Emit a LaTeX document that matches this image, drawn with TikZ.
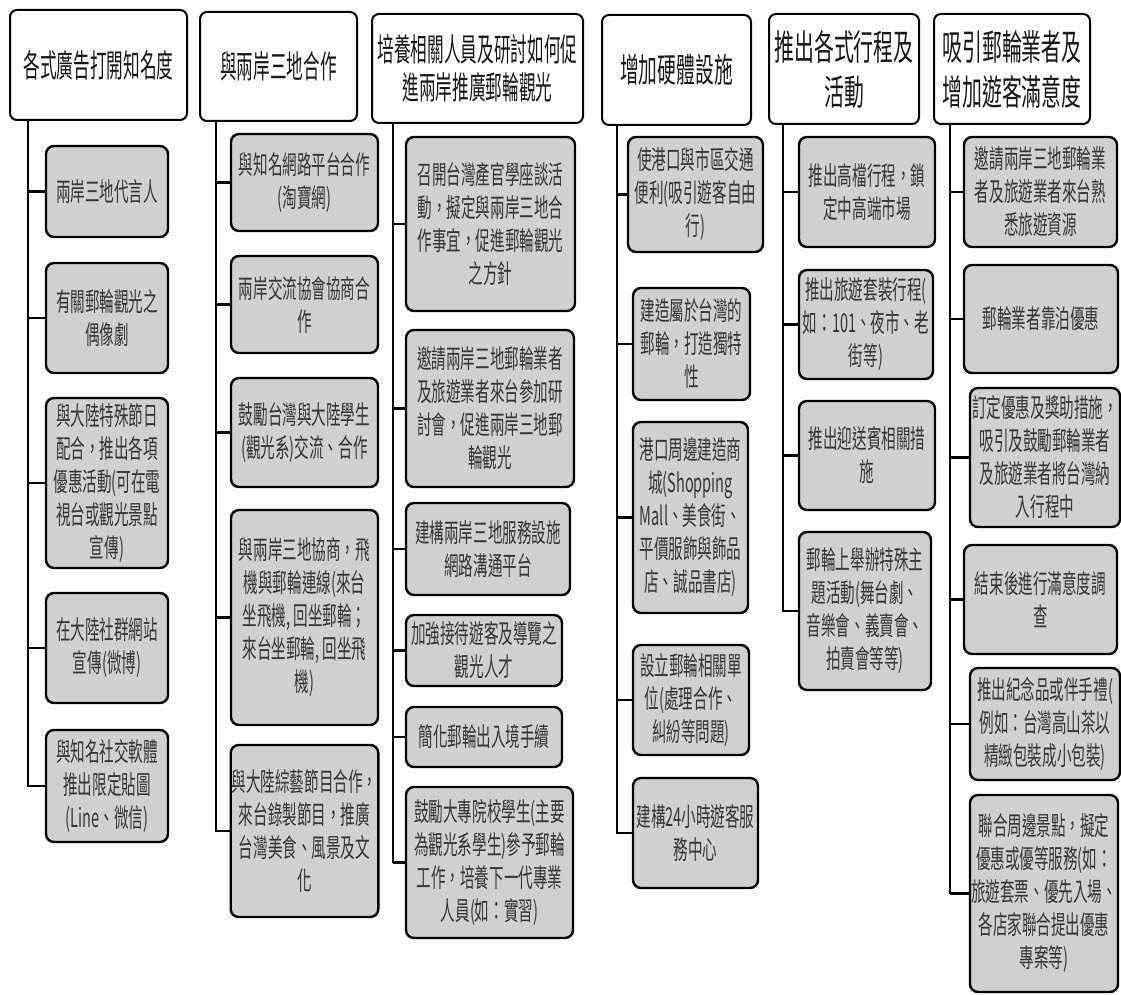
\documentclass[tikz,border=0pt]{standalone}
\usepackage{fontspec}
\newfontfamily\cjkc[FakeStretch=0.56]{Noto Sans CJK TC}
\newfontfamily\cjkh[FakeStretch=0.52]{Noto Sans CJK TC}
\newfontfamily\cjkw[FakeStretch=0.56]{Noto Sans CJK TC}
\definecolor{boxgray}{RGB}{208,208,208}
\definecolor{txtgray}{RGB}{55,55,55}
\newcommand\mybx[7]{\node[#1, minimum width={(#4)-(#2)}, minimum height={(#5)-(#3)}] (#6) at ({((#2)+(#4))/2},{((#3)+(#5))/2}) {#7};}
\begin{document}
\begin{tikzpicture}[x=1pt,y=-1pt,
 hbox/.style={draw=black, line width=2pt, fill=white, rounded corners=7pt, align=center, inner sep=1pt, text=black!90, font=\cjkh\fontsize{32}{38}\selectfont},
 hmid/.style={font=\cjkw\fontsize{33.5}{44}\selectfont},
 hbig/.style={font=\cjkw\fontsize{35.5}{45}\selectfont},
 cbox/.style={draw=black, line width=2.4pt, fill=boxgray, rounded corners=8pt, align=center, inner sep=1pt, text=txtgray, font=\cjkc\fontsize{26}{33}\selectfont},
 trunk/.style={line width=1.6pt},
 stub/.style={line width=2.8pt}]
\useasboundingbox (0,0) rectangle (1121,995);

% column 1
\mybx{hbox}{10}{10}{187}{120}{h1}{各式廣告打開知名度}
\mybx{cbox}{46}{146}{168}{237}{c11}{兩岸三地代言人}
\mybx{cbox}{46}{263}{168}{373}{c12}{有關郵輪觀光之\\偶像劇}
\mybx{cbox}{46}{398}{168}{568}{c13}{與大陸特殊節日\\配合，推出各項\\優惠活動(可在電\\視台或觀光景點\\宣傳)}
\mybx{cbox}{46}{593}{168}{703}{c14}{在大陸社群網站\\宣傳(微博)}
\mybx{cbox}{46}{730}{168}{842}{c15}{與知名社交軟體\\推出限定貼圖\\(Line、微信)}

% column 2
\mybx{hbox}{200}{12}{357}{121}{h2}{與兩岸三地合作}
\mybx{cbox}{231}{134}{378}{231}{c21}{與知名網路平台合作\\(淘寶網)}
\mybx{cbox}{231}{256}{378}{353}{c22}{兩岸交流協會協商合\\作}
\mybx{cbox}{231}{378}{378}{487}{c23}{鼓勵台灣與大陸學生\\(觀光系)交流、合作}
\mybx{cbox}{231}{510}{378}{725}{c24}{與兩岸三地協商，飛\\機與郵輪連線(來台\\坐飛機, 回坐郵輪；\\來台坐郵輪, 回坐飛\\機)}
\mybx{cbox}{231}{745}{378}{917}{c25}{與大陸綜藝節目合作，\\來台錄製節目，推廣\\台灣美食、風景及文\\化}

% column 3
\mybx{hbox}{372}{14}{583}{123}{h3}{培養相關人員及研討如何促\\進兩岸推廣郵輪觀光}
\mybx{cbox}{406}{137}{575}{311}{c31}{召開台灣產官學座談活\\動，擬定與兩岸三地合\\作事宜，促進郵輪觀光\\之方針}
\mybx{cbox}{406}{330}{574}{487}{c32}{邀請兩岸三地郵輪業者\\及旅遊業者來台參加研\\討會，促進兩岸三地郵\\輪觀光}
\mybx{cbox}{406}{503}{570}{595}{c33}{建構兩岸三地服務設施\\網路溝通平台}
\mybx{cbox}{406}{615}{562}{686}{c34}{加強接待遊客及導覽之\\觀光人才}
\mybx{cbox}{406}{707}{562}{767}{c35}{簡化郵輪出入境手續}
\mybx{cbox}{406}{787}{573}{938}{c36}{鼓勵大專院校學生(主要\\為觀光系學生)參予郵輪\\工作，培養下一代專業\\人員(如：實習)}

% column 4
\mybx{hbox,hmid}{602}{15}{751}{125}{h4}{增加硬體設施}
\mybx{cbox}{628}{137}{763}{252}{c41}{使港口與市區交通\\便利(吸引遊客自由\\行)}
\mybx{cbox}{633}{288}{750}{400}{c42}{建造屬於台灣的\\郵輪，打造獨特\\性}
\mybx{cbox}{633}{422}{748}{613}{c43}{港口周邊建造商\\城(Shopping\\Mall、美食街、\\平價服飾與飾品\\店、誠品書店)}
\mybx{cbox}{633}{645}{749}{755}{c44}{設立郵輪相關單\\位(處理合作、\\糾紛等問題)}
\mybx{cbox}{633}{778}{758}{888}{c45}{建構24小時遊客服\\務中心}

% column 5
\mybx{hbox,hbig}{769}{14}{919}{124}{h5}{推出各式行程及\\活動}
\mybx{cbox}{799}{137}{935}{247}{c51}{推出高檔行程，鎖\\定中高端市場}
\mybx{cbox}{799}{270}{933}{379}{c52}{推出旅遊套裝行程(\\如：101、夜市、老\\街等)}
\mybx{cbox}{799}{401}{935}{510}{c53}{推出迎送賓相關措\\施}
\mybx{cbox}{799}{532}{931}{690}{c54}{郵輪上舉辦特殊主\\題活動(舞台劇、\\音樂會、義賣會、\\拍賣會等等)}

% column 6
\mybx{hbox,hbig}{934}{14}{1090}{124}{h6}{吸引郵輪業者及\\增加遊客滿意度}
\mybx{cbox}{964}{137}{1117}{247}{c61}{邀請兩岸三地郵輪業\\者及旅遊業者來台熟\\悉旅遊資源}
\mybx{cbox}{964}{265}{1118}{373}{c62}{郵輪業者靠泊優惠}
\mybx{cbox}{970}{388}{1120}{527}{c63}{訂定優惠及獎助措施，\\吸引及鼓勵郵輪業者\\及旅遊業者將台灣納\\入行程中}
\mybx{cbox}{964}{545}{1117}{654}{c64}{結束後進行滿意度調\\查}
\mybx{cbox}{970}{668}{1120}{780}{c65}{推出紀念品或伴手禮(\\例如：台灣高山茶以\\精緻包裝成小包裝)}
\mybx{cbox}{970}{795}{1118}{992}{c66}{聯合周邊景點，擬定\\優惠或優等服務(如：\\旅遊套票、優先入場、\\各店家聯合提出優惠\\專案等)}

% trunks
\coordinate (t1) at (28,120);
\coordinate (t2) at (216,121);
\coordinate (t3) at (393,123);
\coordinate (t4) at (617,125);
\coordinate (t5) at (783,124);
\coordinate (t6) at (950,124);

\draw[trunk] (t1) |- (c15.west);
\foreach \c in {c11,c12,c13,c14,c15} \draw[stub] (\c.west) -- (\c.west -| t1);
\draw[trunk] (t2) |- (c25.west);
\foreach \c in {c21,c22,c23,c24,c25} \draw[stub] (\c.west) -- (\c.west -| t2);
\draw[trunk] (t3) |- (c36.west);
\foreach \c in {c31,c32,c33,c34,c35,c36} \draw[stub] (\c.west) -- (\c.west -| t3);
\draw[trunk] (t4) |- (c45.west);
\foreach \c in {c41,c42,c43,c44,c45} \draw[stub] (\c.west) -- (\c.west -| t4);
\draw[trunk] (t5) |- (c54.west);
\foreach \c in {c51,c52,c53,c54} \draw[stub] (\c.west) -- (\c.west -| t5);
\draw[trunk] (t6) |- (c66.west);
\foreach \c in {c61,c62,c63,c64,c65,c66} \draw[stub] (\c.west) -- (\c.west -| t6);
\end{tikzpicture}
\end{document}
